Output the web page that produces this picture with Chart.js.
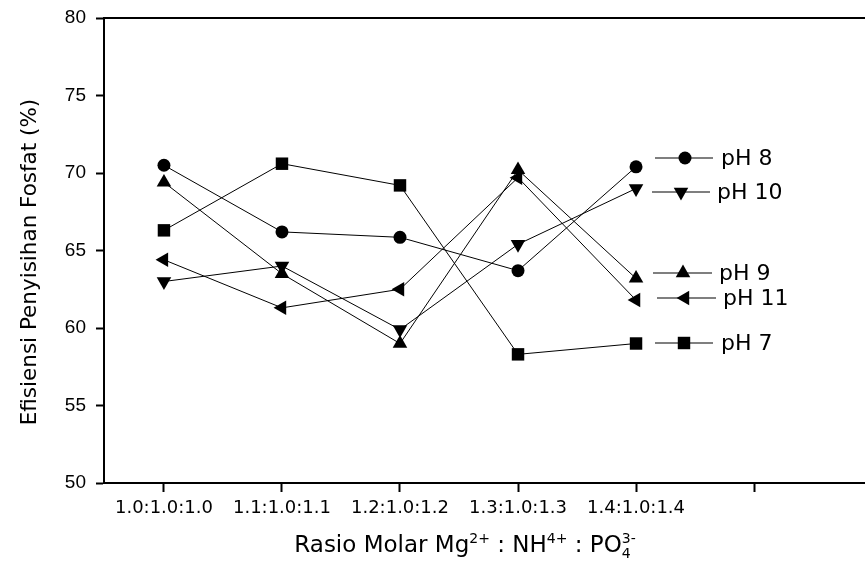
<!DOCTYPE html>
<html>
<head>
<meta charset="utf-8">
<script src="https://cdn.jsdelivr.net/npm/chart.js@4/dist/chart.umd.min.js"></script>
<style>
  html, body { margin: 0; padding: 0; background: #fff; }
  #wrap { width: 865px; height: 569px; }
</style>
</head>
<body>
<div id="wrap"><canvas id="chart" width="865" height="569"></canvas></div>
<script>
// Efisiensi penyisihan fosfat vs rasio molar, one line per pH
const categories = ['1.0:1.0:1.0', '1.1:1.0:1.1', '1.2:1.0:1.2', '1.3:1.0:1.3', '1.4:1.0:1.4'];
const seriesNames = ['pH 7', 'pH 8', 'pH 9', 'pH 10', 'pH 11'];
const ph7 = [66.3, 70.6, 69.2, 58.3, 59.0];
const ph8 = [70.5, 66.2, 65.85, 63.7, 70.4];
const ph9 = [69.4, 63.5, 59.0, 70.2, 63.2];
const ph10 = [63.0, 64.0, 59.9, 65.4, 69.0];
const ph11 = [64.4, 61.3, 62.5, 69.7, 61.8];
const yTicks = [50, 55, 60, 65, 70, 75, 80];
const xTickPositions = [0, 1, 2, 3, 4, 5];

const markers = [
  { pointStyle: 'rect', radius: 8.8, rotation: 0 },
  { pointStyle: 'circle', radius: 6.5, rotation: 0 },
  { pointStyle: 'triangle', radius: 8.4, rotation: 0 },
  { pointStyle: 'triangle', radius: 8.4, rotation: 180 },
  { pointStyle: 'triangle', radius: 8.4, rotation: -90 }
];
const seriesValues = [ph7, ph8, ph9, ph10, ph11];

const datasets = seriesValues.map((vals, i) => ({
  label: seriesNames[i],
  data: vals.map((v, k) => ({ x: k, y: v })),
  borderColor: '#000',
  borderWidth: 1,
  backgroundColor: '#000',
  pointBackgroundColor: '#000',
  pointBorderColor: '#000',
  pointBorderWidth: 0,
  pointStyle: markers[i].pointStyle,
  pointRadius: markers[i].radius,
  pointRotation: markers[i].rotation,
  pointHoverRadius: markers[i].radius,
  tension: 0
}));

function drawMarker(ctx, m, x, y) {
  ctx.beginPath();
  if (m.pointStyle === 'circle') {
    ctx.arc(x, y, m.radius, 0, Math.PI * 2);
  } else if (m.pointStyle === 'rect') {
    const s = m.radius * Math.SQRT1_2;
    ctx.rect(x - s, y - s, 2 * s, 2 * s);
  } else {
    let rad = m.rotation * Math.PI / 180;
    ctx.moveTo(x + Math.sin(rad) * m.radius, y - Math.cos(rad) * m.radius);
    rad += 2 * Math.PI / 3;
    ctx.lineTo(x + Math.sin(rad) * m.radius, y - Math.cos(rad) * m.radius);
    rad += 2 * Math.PI / 3;
    ctx.lineTo(x + Math.sin(rad) * m.radius, y - Math.cos(rad) * m.radius);
    ctx.closePath();
  }
  ctx.fill();
}

// legend rows sit inside the plot, next to the line ends
const legendRows = [
  { ds: 1, y: 158, x0: 655, x1: 713, mx: 685, tx: 721 },
  { ds: 3, y: 192, x0: 652, x1: 710, mx: 681, tx: 717 },
  { ds: 2, y: 273, x0: 653, x1: 712, mx: 683, tx: 719 },
  { ds: 4, y: 298, x0: 657, x1: 716, mx: 685, tx: 723 },
  { ds: 0, y: 343, x0: 655, x1: 713, mx: 684, tx: 721 }
];

const extras = {
  id: 'extras',
  afterDraw(chart) {
    const ctx = chart.ctx;
    const area = chart.chartArea;
    ctx.save();

    // top frame line
    ctx.strokeStyle = '#000';
    ctx.lineWidth = 2;
    ctx.beginPath();
    ctx.moveTo(area.left, area.top);
    ctx.lineTo(chart.width, area.top);
    ctx.stroke();

    // legend
    ctx.font = '22px "DejaVu Sans"';
    ctx.textBaseline = 'middle';
    ctx.textAlign = 'left';
    legendRows.forEach(r => {
      ctx.strokeStyle = '#555';
      ctx.lineWidth = 1.5;
      ctx.beginPath();
      ctx.moveTo(r.x0, r.y);
      ctx.lineTo(r.x1, r.y);
      ctx.stroke();
      ctx.fillStyle = '#000';
      drawMarker(ctx, markers[r.ds], r.mx, r.y);
      ctx.fillText(seriesNames[r.ds], r.tx, r.y + 1);
    });

    // y title
    ctx.save();
    ctx.translate(36, 262);
    ctx.rotate(-Math.PI / 2);
    ctx.font = '21.5px "DejaVu Sans"';
    ctx.textAlign = 'center';
    ctx.textBaseline = 'alphabetic';
    ctx.fillStyle = '#000';
    ctx.fillText('Efisiensi Penyisihan Fosfat (%)', 0, 0);
    ctx.restore();

    // x title with super/subscripts
    const big = '23px "DejaVu Sans"';
    const small = '14px "DejaVu Sans"';
    const parts = [
      { t: 'Rasio Molar Mg', f: big, dy: 0 },
      { t: '2+', f: small, dy: -9 },
      { t: ' : NH', f: big, dy: 0 },
      { t: '4+', f: small, dy: -9 },
      { t: ' : PO', f: big, dy: 0 },
      { t: '4', f: small, dy: 6, stack: true },
      { t: '3-', f: small, dy: -9 }
    ];
    let total = 0;
    parts.forEach(p => {
      ctx.font = p.f;
      if (!p.stack) total += ctx.measureText(p.t).width;
    });
    let x = 465 - total / 2;
    const base = 552;
    ctx.textAlign = 'left';
    ctx.textBaseline = 'alphabetic';
    parts.forEach(p => {
      ctx.font = p.f;
      ctx.fillText(p.t, x, base + p.dy);
      if (!p.stack) x += ctx.measureText(p.t).width;
    });

    ctx.restore();
  }
};

new Chart(document.getElementById('chart'), {
  type: 'line',
  data: { datasets },
  options: {
    responsive: false,
    animation: false,
    layout: { autoPadding: false, padding: { top: 18, right: 0, left: 0, bottom: 0 } },
    plugins: {
      legend: { display: false },
      tooltip: { enabled: false },
      title: { display: false }
    },
    scales: {
      x: {
        type: 'linear',
        min: -0.508,
        max: 5.94,
        afterFit(scale) {
          scale.height = 86;
          scale.paddingLeft = 0;
          scale.paddingRight = 0;
        },
        afterBuildTicks(scale) { scale.ticks = xTickPositions.map(v => ({ value: v })); },
        border: { display: true, color: '#000', width: 2 },
        grid: { drawOnChartArea: false, drawTicks: true, tickLength: 9, tickColor: '#000', tickWidth: 2 },
        ticks: {
          color: '#000',
          padding: 6,
          maxRotation: 0,
          autoSkip: false,
          font: { family: 'DejaVu Sans', size: 18 },
          callback: v => (categories[v] !== undefined ? categories[v] : '')
        }
      },
      y: {
        min: 50,
        max: 80,
        afterFit(scale) {
          scale.width = 104;
          scale.paddingTop = 0;
          scale.paddingBottom = 0;
        },
        afterBuildTicks(scale) { scale.ticks = yTicks.map(v => ({ value: v })); },
        border: { display: true, color: '#000', width: 2 },
        grid: { drawOnChartArea: false, drawTicks: true, tickLength: 8, tickColor: '#000', tickWidth: 2 },
        ticks: {
          color: '#000',
          padding: 10,
          font: { family: 'Liberation Sans', size: 19 }
        }
      }
    }
  },
  plugins: [extras]
});
</script>
</body>
</html>
